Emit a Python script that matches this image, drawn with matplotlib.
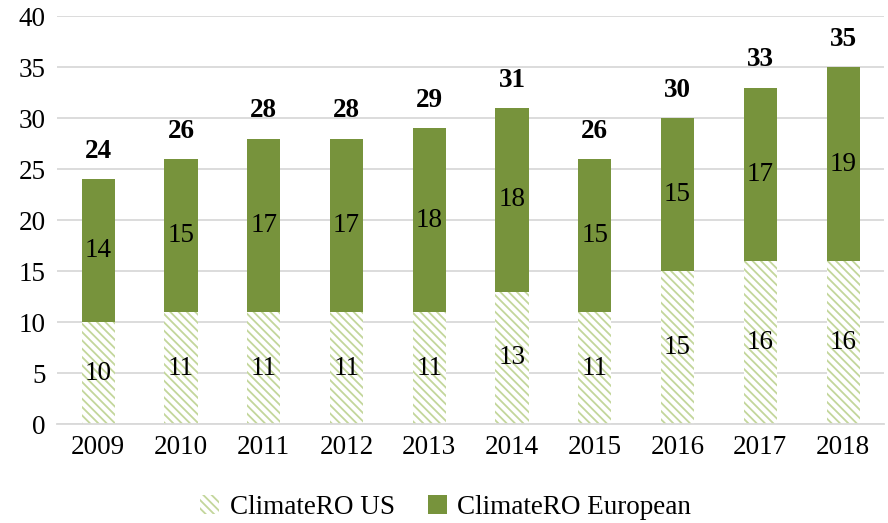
import matplotlib.pyplot as plt
import numpy as np

years = ["2009", "2010", "2011", "2012", "2013", "2014", "2015", "2016", "2017", "2018"]
us_values = [10, 11, 11, 11, 11, 13, 11, 15, 16, 16]
european_values = [14, 15, 17, 17, 18, 18, 15, 15, 17, 19]
y_ticks = [0, 5, 10, 15, 20, 25, 30, 35, 40]


def main() -> None:
    plt.rcParams.update({
        "font.family": ["Liberation Serif", "DejaVu Serif"],
        "font.size": 19.5,
        "hatch.linewidth": 1.3,
        "hatch.color": "#C3D69B",
    })

    figure = plt.figure(figsize=(8.88, 5.23), dpi=100)
    axis = figure.add_axes([0.064, 0.189, 0.932, 0.78])

    x = np.arange(len(years))
    us = np.array(us_values)
    eu = np.array(european_values)
    totals = us + eu
    width = 0.4

    us_bars = axis.bar(x, us, width=width, color="white", hatch="\\\\\\\\",
                       edgecolor="#C3D69B", linewidth=0, label="ClimateRO US")
    eu_bars = axis.bar(x, eu, width=width, bottom=us, color="#77933C",
                       linewidth=0, label="ClimateRO European")

    for xi, u, e, t in zip(x, us, eu, totals):
        axis.text(xi, u / 2, str(u), ha="center", va="center")
        axis.text(xi, u + e / 2, str(e), ha="center", va="center")
        axis.annotate(str(t), (xi, t), xytext=(0, 11), textcoords="offset points",
                      ha="center", va="bottom", fontweight="bold")

    axis.set_xlim(-0.5, len(years) - 0.5)
    axis.set_ylim(0, 40)
    axis.set_yticks(y_ticks)
    axis.set_xticks(x, years)
    axis.tick_params(length=0, pad=8)
    axis.yaxis.grid(True, color="#D9D9D9", linewidth=1.3)
    axis.set_axisbelow(True)
    for side in ["top", "right", "left"]:
        axis.spines[side].set_visible(False)
    axis.spines["bottom"].set_color("#D9D9D9")
    axis.spines["bottom"].set_linewidth(1.3)

    figure.legend(handles=[us_bars, eu_bars], loc="center", bbox_to_anchor=(0.502, 0.03),
                  ncol=2, frameon=False, handlelength=0.7, handleheight=0.7,
                  handletextpad=0.4, columnspacing=1.2)

    figure.savefig("out.png", dpi=100)


if __name__ == "__main__":
    main()
